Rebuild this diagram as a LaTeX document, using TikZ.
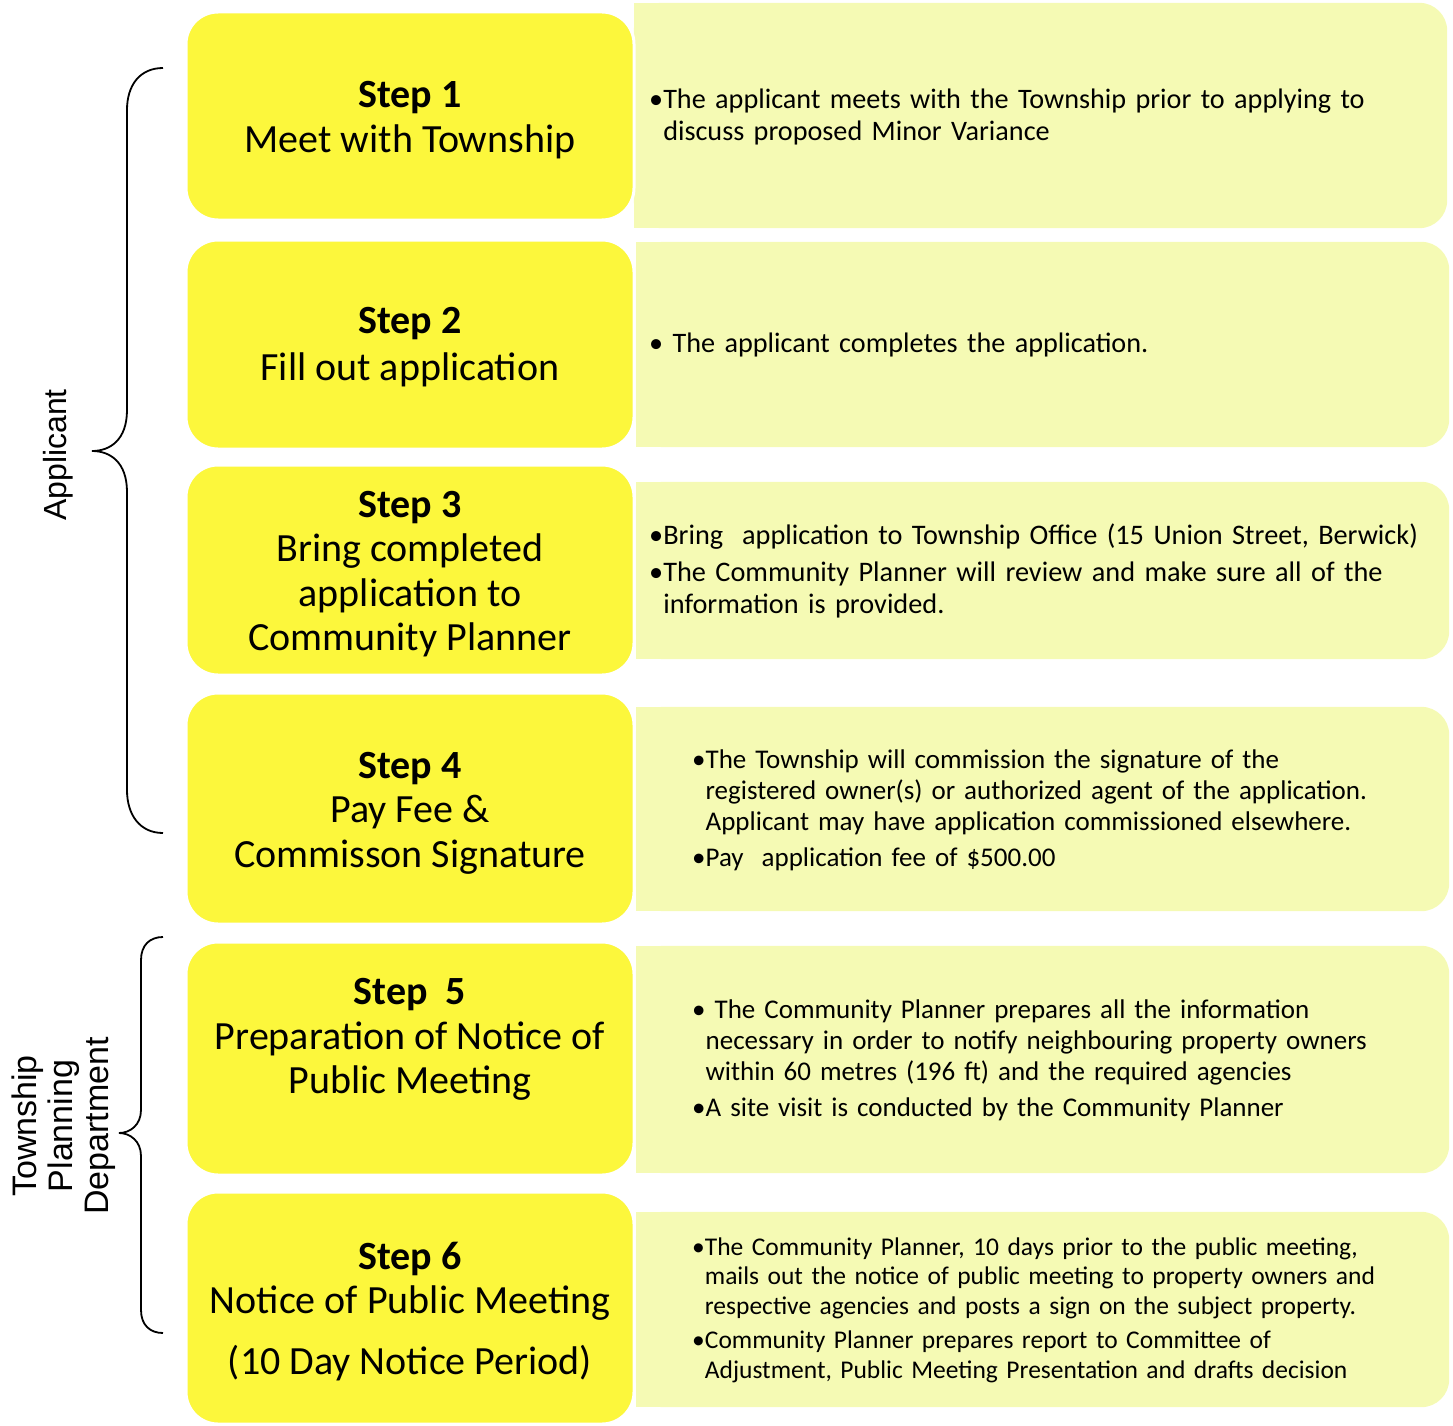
\documentclass[tikz,border=0pt]{standalone}
\usepackage{fontspec}
\setmainfont{Carlito}
\newfontfamily\arialfont{Liberation Sans}
\usetikzlibrary{backgrounds}
\definecolor{stepyellow}{RGB}{252,247,60}
\definecolor{paleyellow}{RGB}{245,250,180}
\newlength\bulw
\newcommand\bitem[1]{\noindent\settowidth\bulw{\textbullet}\hangindent=\bulw\hangafter=1\textbullet#1\par}
\newcommand\lift[1]{\rule{0pt}{#1}}
\tikzset{
  stepbox/.style={rectangle, rounded corners=32pt, fill=stepyellow, draw=white, line width=3pt,
    minimum width=448pt, inner sep=0pt, align=center, font=\fontsize{40}{44.5}\selectfont},
  rframe/.style={rectangle, inner sep=0pt, minimum width=813pt},
  rtext/.style={anchor=west, inner sep=0pt, text width=900pt, align=left,
    execute at begin node={\setlength\parskip{5pt}}},
  brace/.style={draw=black, line width=1.8pt},
}
\begin{document}
\begin{tikzpicture}[x=1pt,y=-1pt]
\useasboundingbox (0,0) rectangle (1453,1426);

% right frames
\node[rframe, minimum height=225pt] (r1) at (1040.5,115.5) {};
\node[rframe, minimum height=205pt] (r2) at (1042.5,344.5) {};
\node[rframe, minimum height=177pt] (r3) at (1042.5,570.5) {};
\node[rframe, minimum height=204pt] (r4) at (1042.5,809) {};
\node[rframe, minimum height=227pt] (r5) at (1042.5,1059.5) {};
\node[rframe, minimum height=195pt] (r6) at (1042.5,1309.5) {};

\begin{scope}[on background layer]
\foreach \r in {r1,r2,r3,r4,r5,r6}{
  \fill[paleyellow, rounded corners=28pt] (\r.north west) rectangle (\r.south east);
  \fill[paleyellow] (\r.north west) rectangle ([xshift=60pt]\r.south west);
}
\end{scope}

% step boxes
\node[stepbox, minimum height=208pt] (s1) at (410,116) {\lift{34pt}\textbf{Step 1}\\Meet with Township};
\node[stepbox, minimum height=209pt] (s2) at (410,344.5) {\lift{31pt}\textbf{Step 2}\\[2pt]Fill out application};
\node[stepbox, minimum height=210pt] (s3) at (410,570) {\lift{34pt}\textbf{Step 3}\\Bring completed\\application to\\Community Planner};
\node[stepbox, minimum height=231pt] (s4) at (410,808.5) {\lift{35pt}\textbf{Step 4}\\Pay Fee \&\\Commisson Signature};
\node[stepbox, minimum height=233pt] (s5) at (410,1058.5) {\textbf{Step~ 5}\\Preparation of Notice of\\Public Meeting\\\mbox{}};
\node[stepbox, minimum height=232pt] (s6) at (410,1308) {\lift{34pt}\textbf{Step 6}\\Notice of Public Meeting\\[16pt](10 Day Notice Period)};

% right texts
\node[rtext, font=\fontsize{28.2}{32}\selectfont] (t1) at (649,116.5)
  {\bitem{The applicant meets with the Township prior to applying to\newline discuss proposed Minor Variance}};
\node[rtext, font=\fontsize{28.2}{32}\selectfont] (t2) at (649,345)
  {\bitem{ The applicant completes the application.}};
\node[rtext, font=\fontsize{28.3}{32}\selectfont] (t3) at (649,571)
  {\bitem{Bring~ application to Township Office (15 Union Street, Berwick)}
   \bitem{The Community Planner will review and make sure all of the\newline information is provided.}};
\node[rtext, font=\fontsize{27}{31}\selectfont] (t4) at (692,810)
  {\bitem{The Township will commission the signature of the\newline registered owner(s) or authorized agent of the application.\newline Applicant may have application commissioned elsewhere.}
   \bitem{Pay~ application fee of \$500.00}};
\node[rtext, font=\fontsize{27}{31}\selectfont] (t5) at (692,1060)
  {\bitem{ The Community Planner prepares all the information\newline necessary in order to notify neighbouring property owners\newline within 60 metres (196 ft) and the required agencies}
   \bitem{A site visit is conducted by the Community Planner}};
\node[rtext, font=\fontsize{25.5}{29.5}\selectfont] (t6) at (692,1310)
  {\bitem{The Community Planner, 10 days prior to the public meeting,\newline mails out the notice of public meeting to property owners and\newline respective agencies and posts a sign on the subject property.}
   \bitem{Community Planner prepares report to Committee of\newline Adjustment, Public Meeting Presentation and drafts decision}};

% braces
\draw[brace] (163,68) .. controls (140,68) and (127,85) .. (127,110) -- (127,410)
  .. controls (127,440) and (110,451) .. (92,451)
  .. controls (110,451) and (127,462) .. (127,492) -- (127,790)
  .. controls (127,815) and (140,833) .. (163,833);
\draw[brace] (163,937) .. controls (150,937) and (141,945) .. (141,960) -- (141,1110)
  .. controls (141,1125) and (130,1133) .. (119,1133)
  .. controls (130,1133) and (141,1141) .. (141,1156) -- (141,1310)
  .. controls (141,1325) and (150,1333) .. (163,1333);

% labels
\node[rotate=90, inner sep=0pt, font=\arialfont\fontsize{32}{36}\selectfont] (applicant) at (58,455) {Applicant};
\node[rotate=90, inner sep=0pt, align=center, font=\arialfont\fontsize{34}{36}\selectfont] (tpd) at (64,1126) {Township\\Planning\\Department};
\end{tikzpicture}
\end{document}
